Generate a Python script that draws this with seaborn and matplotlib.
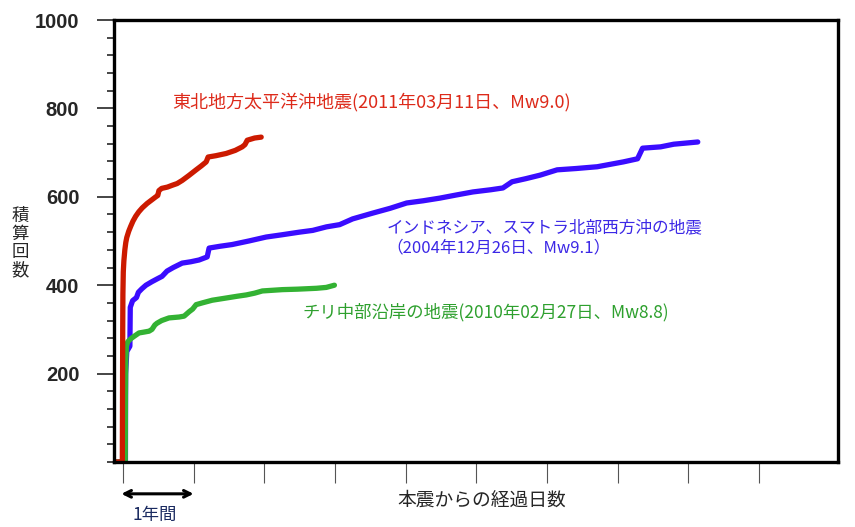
import matplotlib
matplotlib.use("Agg")
import matplotlib.pyplot as plt
import seaborn as sns
import pandas as pd
from matplotlib.ticker import MultipleLocator, FixedLocator

# ---- data (days since main shock, cumulative count) ----
tohoku_days = [-40, -3, -2, -1, 0, 2, 5, 10, 15, 20, 30, 40, 52, 66, 82, 100, 125, 152,
               170, 180, 186, 200, 230, 254, 280, 306, 340, 378, 405, 430, 440, 480,
               533, 580, 616, 630, 642, 680, 714]
tohoku_counts = [0, 0, 150, 300, 380, 430, 455, 480, 497, 508, 522, 533, 545, 556, 566, 575,
                 585, 594, 600, 603, 614, 619, 622, 626, 630, 637, 648, 661, 670, 679, 690,
                 693, 698, 705, 713, 718, 728, 733, 735]

sumatra_days = [-40, 13, 14, 20, 36, 38, 50, 70, 80, 98, 119, 150, 180, 202, 228, 260, 306,
                350, 393, 435, 445, 500, 564, 650, 740, 820, 911, 980, 1051, 1119, 1186,
                1289, 1380, 1465, 1550, 1636, 1720, 1807, 1900, 1962, 2009, 2080, 2154,
                2242, 2340, 2449, 2584, 2657, 2683, 2776, 2844, 2968]
sumatra_counts = [0, 0, 200, 250, 262, 350, 365, 372, 384, 392, 400, 408, 415, 420, 432, 440,
                  450, 453, 457, 464, 484, 488, 492, 500, 509, 514, 520, 524, 532, 537, 550,
                  563, 574, 586, 591, 597, 604, 611, 616, 620, 634, 641, 649,
                  661, 664, 668, 679, 686, 710, 713, 719, 724]

chile_days = [-40, 12, 13, 15, 18, 25, 41, 60, 83, 110, 135, 150, 165, 176, 200, 238, 290,
              316, 342, 360, 378, 410, 461, 533, 590, 637, 680, 720, 824, 900, 999, 1050,
              1092]
chile_counts = [0, 0, 150, 230, 262, 272, 279, 285, 292, 294, 296, 300, 310, 314, 320, 326,
                328, 330, 340, 346, 356, 360, 366, 371, 375, 378, 382, 387, 390, 391, 393,
                395, 400]

labels = {
    "tohoku": "東北地方太平洋沖地震(2011年03月11日、Mw9.0)",
    "sumatra": "インドネシア、スマトラ北部西方沖の地震\n（2004年12月26日、Mw9.1）",
    "chile": "チリ中部沿岸の地震(2010年02月27日、Mw8.8)",
}
ylabel = "積\n算\n回\n数"
xlabel = "本震からの経過日数"
year_label = "1年間"
ytick_major = [200, 400, 600, 800, 1000]
year_days = 365
n_year_ticks = 10

# ---- style ----
sns.set_style("white")
plt.rcParams["font.family"] = ["Noto Sans CJK JP", "DejaVu Sans"]

fig = plt.figure(figsize=(8.55, 5.27), dpi=100)
ax = fig.add_axes([114 / 855, 1 - 462 / 527, (838 - 114) / 855, (462 - 20) / 527])

c_red, c_blue, c_green = "#cc1a00", "#3a0cff", "#33b233"
df_s = pd.DataFrame({"day": sumatra_days, "count": sumatra_counts})
df_c = pd.DataFrame({"day": chile_days, "count": chile_counts})
df_t = pd.DataFrame({"day": tohoku_days, "count": tohoku_counts})
for df, col in ((df_s, c_blue), (df_c, c_green), (df_t, c_red)):
    sns.lineplot(data=df, x="day", y="count", sort=False, color=col, lw=3.8, ax=ax,
                 solid_joinstyle="round", solid_capstyle="round")

ax.set_xlim(-46, 3692)
ax.set_ylim(0, 1000)
ax.set_xlabel("")
ax.set_ylabel("")

for s in ax.spines.values():
    s.set_linewidth(2.4)
    s.set_color("black")

ax.yaxis.set_major_locator(FixedLocator(ytick_major))
ax.yaxis.set_minor_locator(MultipleLocator(40))
ax.tick_params(axis="y", which="major", direction="out", length=12, width=1.2,
               pad=13, labelsize=14.5, left=True)
ax.tick_params(axis="y", which="minor", direction="out", length=5, width=1.2, left=True)
for t in ax.get_yticklabels():
    t.set_fontfamily("Liberation Sans")
    t.set_fontweight("bold")

ax.xaxis.set_major_locator(FixedLocator([i * year_days for i in range(n_year_ticks)]))
ax.tick_params(axis="x", which="major", direction="out", length=15, width=0.8,
               color="#555555", labelbottom=False, bottom=True)

# labels
ax.text(254, 814, labels["tohoku"], color="#dd2a1a", fontsize=13, va="center", ha="left")
ax.text(1362, 507, labels["sumatra"], color="#3c28e6", fontsize=12, va="center", ha="left",
        linespacing=1.2)
ax.text(927, 339, labels["chile"], color="#2ea02e", fontsize=12.5, va="center", ha="left")

fig.text(20 / 855, 1 - 243 / 527, ylabel, fontsize=12.5, ha="center", va="center",
         linespacing=1.0)
fig.text(482 / 855, 1 - 500 / 527, xlabel, fontsize=13.5, ha="center", va="center")
fig.text(155 / 855, 1 - 515 / 527, year_label, fontsize=12.5, ha="center", va="center",
         color="#1a2a60")

ax.annotate("", xy=(year_days, -0.072), xytext=(-8, -0.072),
            xycoords=ax.get_xaxis_transform(), textcoords=ax.get_xaxis_transform(),
            arrowprops=dict(arrowstyle="<->", lw=2.2, color="black",
                            shrinkA=0, shrinkB=0, mutation_scale=12),
            annotation_clip=False)

fig.savefig("out.png", dpi=100)
